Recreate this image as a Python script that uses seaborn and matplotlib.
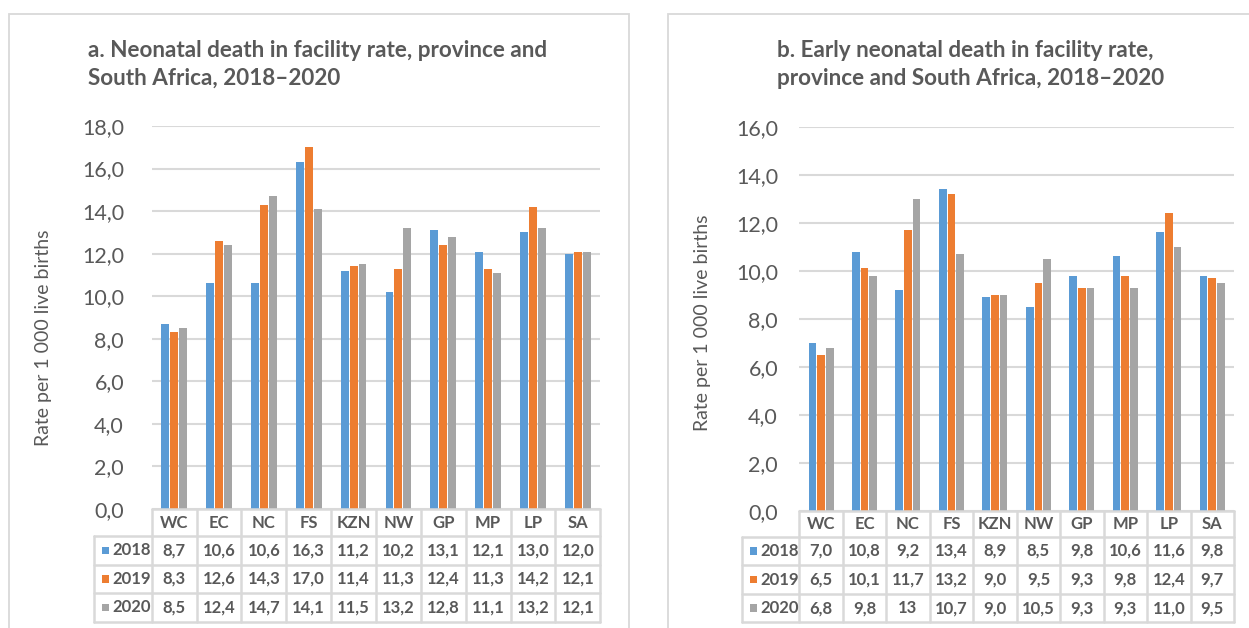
import matplotlib
matplotlib.use("Agg")
import matplotlib.pyplot as plt
import numpy as np
import pandas as pd
import seaborn as sns
from matplotlib.transforms import blended_transform_factory
from matplotlib.lines import Line2D
from matplotlib.patches import Rectangle

# ---- data -----------------------------------------------------------------
provinces = ["WC", "EC", "NC", "FS", "KZN", "NW", "GP", "MP", "LP", "SA"]
years = ["2018", "2019", "2020"]

neonatal_2018 = [8.7, 10.6, 10.6, 16.3, 11.2, 10.2, 13.1, 12.1, 13.0, 12.0]
neonatal_2019 = [8.3, 12.6, 14.3, 17.0, 11.4, 11.3, 12.4, 11.3, 14.2, 12.1]
neonatal_2020 = [8.5, 12.4, 14.7, 14.1, 11.5, 13.2, 12.8, 11.1, 13.2, 12.1]

early_2018 = [7.0, 10.8, 9.2, 13.4, 8.9, 8.5, 9.8, 10.6, 11.6, 9.8]
early_2019 = [6.5, 10.1, 11.7, 13.2, 9.0, 9.5, 9.3, 9.8, 12.4, 9.7]
early_2020 = [6.8, 9.8, 13, 10.7, 9.0, 10.5, 9.3, 9.3, 11.0, 9.5]

title_a = "a. Neonatal death in facility rate, province and\nSouth Africa, 2018\u20132020"
title_b = "b. Early neonatal death in facility rate,\nprovince and South Africa, 2018\u20132020"
y_label = "Rate per 1 000 live births"

year_colors = ["#5B9BD5", "#ED7D31", "#A5A5A5"]
TEXT = "#595959"
GRID = "#D9D9D9"

# ---- figure setup -----------------------------------------------------------
W, H = 1249, 628
sns.set_theme(style="white")
plt.rcParams["font.family"] = ["Lato", "DejaVu Sans"]
fig = plt.figure(figsize=(W / 100, H / 100), dpi=100)
fig.patch.set_facecolor("white")


def fx(px):
    return px / W


def fy(py):
    return 1 - py / H


def fmt(v):
    return str(v) if isinstance(v, int) else f"{v:.1f}".replace(".", ",")


def panel(series, title, ymax, box, plot, rows, table_left, title_x,
          tick_right, ylab_x, ylab_y):
    # outer chart frame
    fig.add_artist(Rectangle((fx(box[0]), fy(box[3])), fx(box[2] - box[0]),
                             fy(box[1]) - fy(box[3]), transform=fig.transFigure,
                             fill=False, edgecolor=GRID, linewidth=1.3))
    left, right, top, bottom = plot
    ax = fig.add_axes([fx(left), fy(bottom), fx(right - left), fy(top) - fy(bottom)])

    df = pd.DataFrame({
        "province": np.tile(provinces, len(years)),
        "year": np.repeat(years, len(provinces)),
        "rate": np.concatenate([np.asarray(s, dtype=float) for s in series]),
    })
    sns.barplot(data=df, x="province", y="rate", hue="year", order=provinces,
                hue_order=years, palette=year_colors, width=0.6, gap=0.12,
                linewidth=0, saturation=1, ax=ax, legend=False)

    ax.set_xlim(-0.5, len(provinces) - 0.5)
    ax.set_ylim(0, ymax)
    ax.set_yticks(np.arange(0, ymax + 0.1, 2))
    ax.yaxis.set_major_formatter(plt.FuncFormatter(lambda v, p: fmt(float(v))))
    ax.tick_params(axis="y", length=0, pad=(left - tick_right) * 0.72,
                   labelsize=15.5, labelcolor=TEXT)
    ax.tick_params(axis="x", length=0, labelbottom=False)
    ax.grid(axis="y", color=GRID, linewidth=1.5)
    ax.set_axisbelow(True)
    for s in ax.spines.values():
        s.set_visible(False)
    ax.set_xlabel("")
    ax.set_ylabel(y_label, fontsize=14, color=TEXT)
    ax.yaxis.set_label_coords((ylab_x - left) / (right - left),
                              (bottom - ylab_y) / (bottom - top))

    # data table below the axis: x in category units, y in figure fraction
    tr = blended_transform_factory(ax.transData, fig.transFigure)
    n = len(provinces)
    xl, xr = -0.5, n - 0.5
    cat_px = (right - left) / n
    x_tab = -0.5 - (left - table_left) / cat_px
    lw = 1.8
    # horizontal rules
    ax.add_line(Line2D([xl, xr], [fy(rows[0])] * 2, transform=tr, color=GRID,
                       linewidth=lw, clip_on=False))
    for r in rows[1:]:
        ax.add_line(Line2D([x_tab, xr], [fy(r)] * 2, transform=tr, color=GRID,
                           linewidth=lw, clip_on=False))
    # vertical rules
    for i in range(n + 1):
        ax.add_line(Line2D([i - 0.5] * 2, [fy(rows[0]), fy(rows[-1])], transform=tr,
                           color=GRID, linewidth=lw, clip_on=False))
    ax.add_line(Line2D([x_tab] * 2, [fy(rows[1]), fy(rows[-1])], transform=tr,
                       color=GRID, linewidth=lw, clip_on=False))

    header_y = fy((rows[0] + rows[1]) / 2)
    for i, p in enumerate(provinces):
        ax.text(i, header_y, p, transform=tr, ha="center", va="center",
                fontsize=12, fontweight="bold", color=TEXT)
    sq = 7.6  # legend key size in pixels
    for k, (yr, vals, col) in enumerate(zip(years, series, year_colors)):
        yc_px = (rows[k + 1] + rows[k + 2]) / 2
        yc = fy(yc_px)
        for i, v in enumerate(vals):
            ax.text(i, yc, fmt(v), transform=tr, ha="center", va="center",
                    fontsize=12, fontweight="bold", color=TEXT)
        fig.add_artist(Rectangle((fx(table_left + 7.4), fy(yc_px + sq / 2)),
                                 fx(sq), sq / H, transform=fig.transFigure,
                                 facecolor=col, edgecolor="none"))
        fig.text(fx(table_left + 18.5), yc, yr, ha="left", va="center",
                 fontsize=12, fontweight="bold", color=TEXT)

    # chart title
    fig.text(fx(title_x), fy(40), title, ha="left", va="top", fontsize=16.2,
             fontweight="bold", color=TEXT, linespacing=1.4)
    return ax


ax_a = panel([neonatal_2018, neonatal_2019, neonatal_2020], title_a, 18,
             box=(8.7, 14, 629, 700), plot=(151.7, 600.3, 126, 509),
             rows=[509, 536, 564.7, 593, 621.7], table_left=94.3, title_x=88,
             tick_right=124, ylab_x=52, ylab_y=337.5)
ax_b = panel([early_2018, early_2019, early_2020], title_b, 16,
             box=(668, 14, 1300, 700), plot=(799.3, 1234, 126.7, 510.7),
             rows=[510.7, 536.7, 565.3, 594, 622.3], table_left=742.3, title_x=777,
             tick_right=778, ylab_x=711, ylab_y=323)

fig.savefig("out.png", dpi=100, facecolor="white")
